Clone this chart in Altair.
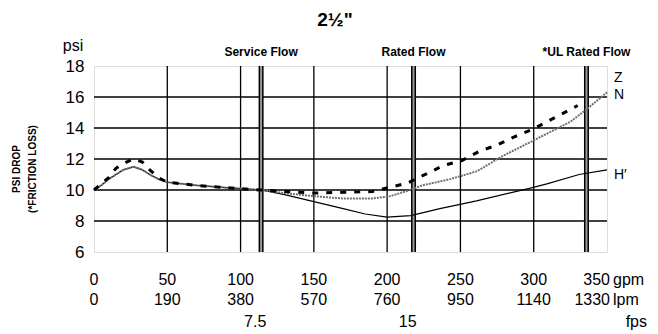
import altair as alt
import pandas as pd

# ---- data ----
z_gpm = [0, 5, 10, 15, 20, 27, 33, 38, 44, 50, 70, 90, 114, 130, 150, 170, 190, 203, 214, 228, 239, 251, 263, 275, 286, 299, 313, 325, 330]
z_psi = [10.0, 10.4, 10.8, 11.4, 11.7, 12.0, 11.8, 11.3, 10.8, 10.5, 10.3, 10.15, 10.0, 9.9, 9.8, 9.85, 9.9, 10.2, 10.45, 11.1, 11.6, 11.9, 12.5, 12.9, 13.4, 13.9, 14.6, 15.2, 15.45]

n_gpm = [0, 5, 10, 15, 20, 27, 33, 38, 44, 50, 70, 90, 114, 130, 150, 170, 190, 202, 214, 224, 243, 261, 279, 302, 325, 336, 350]
n_psi = [10.0, 10.3, 10.7, 11.0, 11.3, 11.5, 11.3, 11.0, 10.7, 10.5, 10.3, 10.15, 10.0, 9.8, 9.6, 9.45, 9.45, 9.6, 9.95, 10.3, 10.7, 11.2, 12.2, 13.3, 14.4, 15.2, 16.3]

h_gpm = [0, 5, 10, 15, 20, 27, 33, 38, 44, 50, 70, 90, 114, 130, 150, 170, 185, 200, 216, 236, 261, 297, 309, 331, 350]
h_psi = [10.0, 10.3, 10.7, 11.0, 11.3, 11.5, 11.3, 11.0, 10.7, 10.5, 10.3, 10.15, 10.0, 9.7, 9.25, 8.8, 8.45, 8.25, 8.35, 8.8, 9.3, 10.1, 10.4, 11.0, 11.3]

gpm_ticks = [0, 50, 100, 150, 200, 250, 300]
gpm_labels = ["0", "50", "100", "150", "200", "250", "300"]
lpm_labels = ["0", "190", "380", "570", "760", "950", "1140"]
last_gpm = [350]
last_gpm_label = ["350"]
last_lpm_label = ["1330"]
fps_pos = [110, 214]
fps_labels = ["7.5", "15"]

flow_gpm = [114, 218, 336]
flow_labels = ["Service Flow", "Rated Flow", "*UL Rated Flow"]

series_names = ["Z", "N", "H′"]
series_label_psi = [17.2, 16.1, 11.0]

y_ticks = [6, 8, 10, 12, 14, 16, 18]
y_grid = [8, 10, 12, 14, 16]
x_grid = [50, 100, 150, 200, 250, 300]

rows = []
for name, g, p in [("Z", z_gpm, z_psi), ("N", n_gpm, n_psi), ("H", h_gpm, h_psi)]:
    rows += [{"series": name, "gpm": a, "psi": b} for a, b in zip(g, p)]
df = pd.DataFrame(rows)

FONT = "Liberation Sans, Arial, sans-serif"
W, H = 513, 186

xs = alt.Scale(domain=[0, 350], nice=False, zero=False)
ys = alt.Scale(domain=[6, 18], nice=False, zero=False)
xaxis = alt.Axis(values=x_grid, grid=False, labels=False, ticks=False, domain=False, title=None)
yaxis = alt.Axis(values=y_ticks, grid=False, ticks=False, domain=False, title=None,
                 labelFontSize=17, labelFont=FONT, labelColor="black", labelPadding=10)


def X(field="gpm"):
    return alt.X(f"{field}:Q", scale=xs, axis=xaxis)


def Y(field="psi"):
    return alt.Y(f"{field}:Q", scale=ys, axis=yaxis)


# gridlines
hgrid = alt.Chart(pd.DataFrame({"psi": y_grid})).mark_rule(color="black", strokeWidth=1.3).encode(y=Y())
vgrid = alt.Chart(pd.DataFrame({"gpm": x_grid})).mark_rule(color="black", strokeWidth=1.3).encode(x=X())

lines_base = alt.Chart(df)
z_line = lines_base.transform_filter(alt.datum.series == "Z").mark_line(
    color="black", strokeWidth=3, strokeDash=[6, 8]).encode(x=X(), y=Y())
n_line = lines_base.transform_filter(alt.datum.series == "N").mark_line(
    color="#707070", strokeWidth=2, strokeDash=[2, 1]).encode(x=X(), y=Y())
h_line = lines_base.transform_filter(alt.datum.series == "H").mark_line(
    color="black", strokeWidth=1.2).encode(x=X(), y=Y())

flow_df = pd.DataFrame({"gpm": flow_gpm, "label": flow_labels})
thick_outer = alt.Chart(flow_df).mark_rule(color="black", strokeWidth=5).encode(x=X())
thick_inner = alt.Chart(flow_df).mark_rule(color="#9a9a9a", strokeWidth=2).encode(x=X())
flow_text = alt.Chart(flow_df).mark_text(font=FONT, fontSize=12, fontWeight="bold", baseline="middle",
                                         align="center").encode(x=X(), y=alt.value(-14), text="label:N")

bottom_df = pd.DataFrame({"gpm": gpm_ticks, "g": gpm_labels, "l": lpm_labels})
row1 = alt.Chart(bottom_df).mark_text(font=FONT, fontSize=16, baseline="middle", align="center").encode(
    x=X(), y=alt.value(214), text="g:N")
row2 = alt.Chart(bottom_df).mark_text(font=FONT, fontSize=16, baseline="middle", align="center").encode(
    x=X(), y=alt.value(234), text="l:N")
last_df = pd.DataFrame({"gpm": last_gpm, "g": last_gpm_label, "l": last_lpm_label})
row1b = alt.Chart(last_df).mark_text(font=FONT, fontSize=16, baseline="middle", align="right", dx=3).encode(
    x=X(), y=alt.value(214), text="g:N")
row2b = alt.Chart(last_df).mark_text(font=FONT, fontSize=16, baseline="middle", align="right", dx=3).encode(
    x=X(), y=alt.value(234), text="l:N")
fps_df = pd.DataFrame({"gpm": fps_pos, "f": fps_labels})
row3 = alt.Chart(fps_df).mark_text(font=FONT, fontSize=16, baseline="middle", align="center").encode(
    x=X(), y=alt.value(256), text="f:N")

gpm_unit = alt.Chart(pd.DataFrame({"u": ["gpm"]})).mark_text(
    font=FONT, fontSize=16, baseline="middle", align="left").encode(
    x=alt.value(519), y=alt.value(214), text="u:N")
lpm_unit = alt.Chart(pd.DataFrame({"u": ["lpm"]})).mark_text(
    font=FONT, fontSize=16, baseline="middle", align="left").encode(
    x=alt.value(519), y=alt.value(234), text="u:N")
fps_unit = alt.Chart(pd.DataFrame({"u": ["fps"]})).mark_text(
    font=FONT, fontSize=16, baseline="middle", align="right").encode(
    x=alt.value(553), y=alt.value(256), text="u:N")

lab_df = pd.DataFrame({"gpm": [350] * 3, "psi": series_label_psi, "s": series_names})
series_text = alt.Chart(lab_df).mark_text(font=FONT, fontSize=14, baseline="middle", align="left", dx=7).encode(
    x=X(), y=Y(), text="s:N")

title_text = alt.Chart(pd.DataFrame({"t": ["2½\""]})).mark_text(
    font=FONT, fontSize=19, fontWeight="bold", baseline="middle", align="center").encode(
    x=alt.value(241), y=alt.value(-46), text="t:N")
psi_text = alt.Chart(pd.DataFrame({"t": ["psi"]})).mark_text(
    font=FONT, fontSize=16, baseline="middle", align="center").encode(
    x=alt.value(-21), y=alt.value(-20), text="t:N")
ytitle1 = alt.Chart(pd.DataFrame({"t": ["PSI DROP"]})).mark_text(
    font=FONT, fontSize=10, fontWeight="bold", baseline="middle", align="center", angle=270).encode(
    x=alt.value(-77), y=alt.value(103), text="t:N")
ytitle2 = alt.Chart(pd.DataFrame({"t": ["(*FRICTION LOSS)"]})).mark_text(
    font=FONT, fontSize=10, fontWeight="bold", baseline="middle", align="center", angle=270).encode(
    x=alt.value(-61), y=alt.value(103), text="t:N")

chart = alt.layer(
    hgrid, vgrid, thick_outer, thick_inner, h_line, n_line, z_line,
    flow_text, row1, row2, row1b, row2b, row3, gpm_unit, lpm_unit, fps_unit,
    series_text, title_text, psi_text, ytitle1, ytitle2
).properties(
    width=W, height=H,
    autosize=alt.AutoSizeParams(type="none"),
    padding={"left": 86, "top": 58, "right": 41, "bottom": 84},
).configure_view(
    stroke="black", strokeWidth=2.5
).configure(background="white")

chart.save("out.html", embed_options={"renderer": "svg", "actions": False})
